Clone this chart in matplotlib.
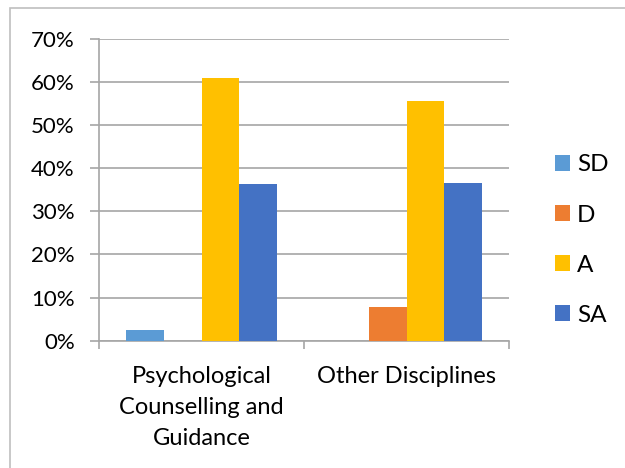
import matplotlib
matplotlib.use("Agg")
import matplotlib.pyplot as plt
from matplotlib.patches import Rectangle
from matplotlib.ticker import FuncFormatter, FixedLocator
import numpy as np

plt.rcParams['font.family'] = ['Lato', 'DejaVu Sans']

categories = ["Psychological\nCounselling and\nGuidance", "Other Disciplines"]
series = ["SD", "D", "A", "SA"]
sd = [2.5, 0.0]
d = [0.0, 7.8]
a = [61.0, 55.6]
sa = [36.4, 36.6]
values = [sd, d, a, sa]
colors = ["#5B9BD5", "#ED7D31", "#FFC000", "#4472C4"]
yticks = [0, 10, 20, 30, 40, 50, 60, 70]

fig = plt.figure(figsize=(6.25, 4.68), dpi=100)
ax = fig.add_axes([0.1584, 0.272, 0.8150 - 0.1584, 0.917 - 0.272])

x = np.arange(len(categories))
w = 0.183
for i, (name, vals, c) in enumerate(zip(series, values, colors)):
    ax.bar(x + (i - 1.5) * w, vals, width=w, color=c, label=name, zorder=3)

ax.set_xlim(-0.5, 1.5)
ax.set_ylim(0, 70)
ax.set_yticks(yticks)
ax.yaxis.set_major_formatter(FuncFormatter(lambda v, p: f"{int(v)}%"))
ax.grid(axis='y', color='#a6a6a6', lw=1.2, zorder=0)
for s in ['top', 'right']:
    ax.spines[s].set_visible(False)
for s in ['left', 'bottom']:
    ax.spines[s].set_color('#a6a6a6')
    ax.spines[s].set_linewidth(1.2)
ax.tick_params(axis='y', length=6.5, color='#a6a6a6', width=1.2, labelsize=16, pad=11)
ax.set_xticks(x)
ax.set_xticklabels(categories, fontsize=17, linespacing=1.6)
ax.tick_params(axis='x', which='major', length=0, pad=18)
ax.xaxis.set_minor_locator(FixedLocator([-0.5, 0.5, 1.5]))
ax.tick_params(axis='x', which='minor', length=6, color='#a6a6a6', width=1.2)
for lab in ax.get_xticklabels():
    lab.set_verticalalignment('top')

leg = fig.legend(loc='center left', bbox_to_anchor=(0.872, 0.487), frameon=False,
                 fontsize=17.5, handlelength=0.62, handleheight=0.62,
                 labelspacing=1.2, handletextpad=0.3, borderaxespad=0)

fig.add_artist(Rectangle((10 / 625, -0.1), 1.2, 1 - 8 / 468 + 0.1,
                         transform=fig.transFigure, fill=False,
                         ec='#bfbfbf', lw=1.2))

fig.savefig("out.png", dpi=100)
